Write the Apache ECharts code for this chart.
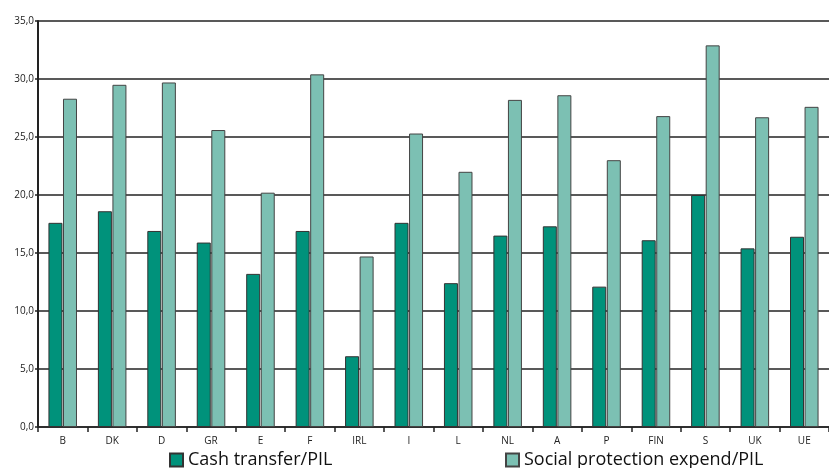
<!DOCTYPE html>
<html>
<head>
<meta charset="utf-8">
<script src="https://cdn.jsdelivr.net/npm/echarts@6/dist/echarts.min.js"></script>
<style>
html,body{margin:0;padding:0;background:#fff;}
#chart{width:829px;height:468px;}
</style>
</head>
<body>
<div id="chart"></div>
<script>
// countries
var categories = ['B','DK','D','GR','E','F','IRL','I','L','NL','A','P','FIN','S','UK','UE'];
var cashTransfer = [17.6,18.6,16.9,15.9,13.2,16.9,6.1,17.6,12.4,16.5,17.3,12.1,16.1,20.0,15.4,16.4];
var socialProtection = [28.3,29.5,29.7,25.6,20.2,30.4,14.7,25.3,22.0,28.2,28.6,23.0,26.8,32.9,26.7,27.6];
var seriesNames = ['Cash transfer/PIL','Social protection expend/PIL'];

var font = 'Open Sans';
var myChart = echarts.init(document.getElementById('chart'));
var legendText = {fontSize: 18, color: '#111', fontFamily: font};
var option = {
    animation: false,
    textStyle: {fontFamily: font},
    grid: {left: 38, right: 0, top: 21, bottom: 41},
    legend: [
        {
            data: [seriesNames[0]],
            left: 164, top: 446,
            icon: 'rect', itemWidth: 13, itemHeight: 13,
            textStyle: legendText
        },
        {
            data: [seriesNames[1]],
            left: 500, top: 446,
            icon: 'rect', itemWidth: 13, itemHeight: 13,
            textStyle: legendText
        }
    ],
    xAxis: {
        type: 'category',
        data: categories,
        axisLine: {lineStyle: {color: '#222', width: 1.5}},
        axisTick: {show: true, length: 5, lineStyle: {color: '#222', width: 1.5}},
        axisLabel: {fontSize: 10, color: '#222', margin: 9}
    },
    yAxis: {
        type: 'value',
        min: 0, max: 35, interval: 5,
        axisLine: {show: true, lineStyle: {color: '#222', width: 2}},
        axisTick: {show: true, length: 3, lineStyle: {color: '#222', width: 1.5}},
        axisLabel: {fontSize: 10, color: '#222', margin: 4,
            formatter: function (v) { return v.toFixed(1).replace('.', ','); }},
        splitLine: {lineStyle: {color: '#222', width: 1.5}}
    },
    series: [
        {
            name: seriesNames[0],
            type: 'bar',
            data: cashTransfer,
            barWidth: 14,
            barGap: '4%',
            itemStyle: {color: '#00927b', borderColor: '#333', borderWidth: 1}
        },
        {
            name: seriesNames[1],
            type: 'bar',
            data: socialProtection,
            barWidth: 14,
            itemStyle: {color: '#7cc0b3', borderColor: '#444', borderWidth: 1}
        }
    ]
};
myChart.setOption(option);
</script>
</body>
</html>
